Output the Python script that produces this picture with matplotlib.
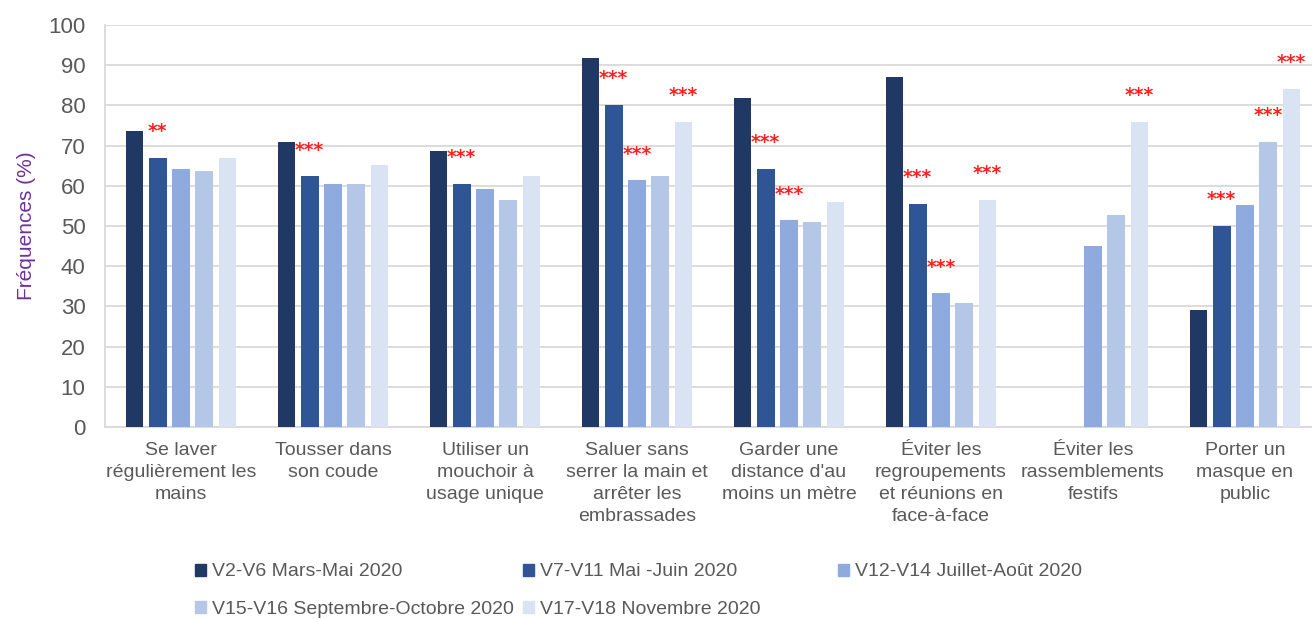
import numpy as np
import matplotlib
matplotlib.use("Agg")
import matplotlib.pyplot as plt
from matplotlib.patches import Rectangle

categories = [
    "Se laver\nrégulièrement les\nmains",
    "Tousser dans\nson coude",
    "Utiliser un\nmouchoir à\nusage unique",
    "Saluer sans\nserrer la main et\narrêter les\nembrassades",
    "Garder une\ndistance d'au\nmoins un mètre",
    "Éviter les\nregroupements\net réunions en\nface-à-face",
    "Éviter les\nrassemblements\nfestifs",
    "Porter un\nmasque en\npublic",
]
series_names = [
    "V2-V6 Mars-Mai 2020",
    "V7-V11 Mai -Juin 2020",
    "V12-V14 Juillet-Août 2020",
    "V15-V16 Septembre-Octobre 2020",
    "V17-V18 Novembre 2020",
]
nan = np.nan
v2_v6 = [73.7, 71.0, 68.7, 91.9, 81.9, 87.0, nan, 29.2]
v7_v11 = [66.9, 62.4, 60.5, 80.1, 64.2, 55.5, nan, 50.1]
v12_v14 = [64.2, 60.5, 59.2, 61.4, 51.4, 33.3, 45.1, 55.1]
v15_v16 = [63.8, 60.5, 56.5, 62.4, 51.0, 30.9, 52.8, 71.0]
v17_v18 = [66.9, 65.1, 62.4, 75.9, 56.0, 56.5, 75.9, 84.2]
series = [v2_v6, v7_v11, v12_v14, v15_v16, v17_v18]

# significance marks: (category index, series index, label)
signif = [
    (0, 1, "**"), (1, 1, "***"), (2, 1, "***"),
    (3, 1, "***"), (3, 2, "***"), (3, 4, "***"),
    (4, 1, "***"), (4, 2, "***"),
    (5, 1, "***"), (5, 2, "***"), (5, 4, "***"),
    (6, 4, "***"),
    (7, 1, "***"), (7, 3, "***"), (7, 4, "***"),
]
yticks = list(range(0, 101, 10))

colors = ["#203864", "#2F5597", "#8FAADC", "#B4C7E7", "#DAE3F3"]
GRAY = "#595959"
W, H = 1312, 619

fig = plt.figure(figsize=(W / 100, H / 100), dpi=100)
ax = fig.add_axes([105 / W, 192 / H, 1216 / W, 402 / H])

x = np.arange(len(categories))
pitch, width = 0.153, 0.118
for i, (vals, c) in enumerate(zip(series, colors)):
    ax.bar(x + (i - 2) * pitch, vals, width, color=c, zorder=3)

for ci, si, lab in signif:
    ax.text(x[ci] + (si - 2) * pitch, series[si][ci] + 6.5, lab, color="#FF2020",
            ha="center", va="center", fontsize=13.5, fontweight="bold", zorder=4)

ax.set_xlim(-0.5, len(categories) - 0.5)
ax.set_ylim(0, 100)
ax.set_yticks(yticks)
ax.yaxis.grid(True, color="#D9D9D9", lw=1.3, zorder=0)
for s in ("top", "right"):
    ax.spines[s].set_visible(False)
for s in ("left", "bottom"):
    ax.spines[s].set_color("#D9D9D9")
    ax.spines[s].set_linewidth(1.3)
ax.tick_params(axis="y", length=0, pad=14, labelsize=16, labelcolor=GRAY)
ax.tick_params(axis="x", length=0, pad=11, labelsize=14, labelcolor=GRAY)
ax.set_xticks(x)
ax.set_xticklabels(categories, linespacing=1.38, fontfamily="Liberation Sans")
for lab in ax.get_yticklabels():
    lab.set_fontfamily("Liberation Sans")
ax.set_ylabel("Fréquences (%)", color="#7030A0", fontsize=15,
              fontfamily="Liberation Sans", labelpad=9)

# legend laid out like the original (3 fixed-width columns, 2 rows)
col_x = [195, 523, 838]
row_y = [570, 607]
for k, (name, c) in enumerate(zip(series_names, colors)):
    px, py = col_x[k % 3], row_y[k // 3]
    fig.patches.append(Rectangle((px / W, 1 - (py + 6) / H), 11 / W, 12 / H,
                                 transform=fig.transFigure, color=c))
    fig.text((px + 17) / W, 1 - (py + 2) / H, name, color=GRAY, fontsize=14,
             fontfamily="Liberation Sans", va="center", ha="left")

fig.savefig("out.png", dpi=100)
